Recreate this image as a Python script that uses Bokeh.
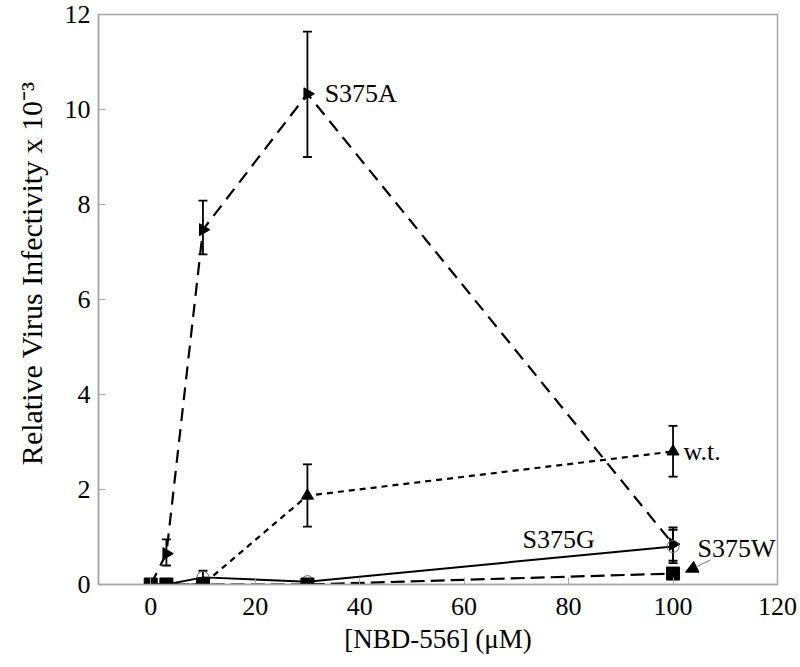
import numpy as np
from bokeh.plotting import figure
from bokeh.models import (ColumnDataSource, Whisker, TeeHead, Label, Arrow,
                          NormalHead, Range1d, FixedTicker, LinearAxis)
from bokeh.embed import file_html
from bokeh.resources import INLINE

# ---- data ----
conc = [0, 3, 10, 30, 100]
s375a = [0, 0.65, 7.47, 10.33, 0.85]
wt = [0, 0, 0, 1.87, 2.8]
s375g = [0, 0, 0.15, 0.06, 0.8]
s375w = [0, 0, 0, 0, 0.23]

s375a_err_x = [3, 10, 30, 100]
s375a_err_hi = [0.95, 8.08, 11.64, 1.2]
s375a_err_lo = [0.4, 6.95, 9.0, 0.5]

wt_err_x = [30, 100]
wt_err_hi = [2.53, 3.34]
wt_err_lo = [1.22, 2.27]

s375g_err_x = [10, 100]
s375g_err_hi = [0.29, 1.15]
s375g_err_lo = [0.01, 0.45]

x_ticks = [0, 20, 40, 60, 80, 100, 120]
y_ticks = [0, 2, 4, 6, 8, 10, 12]

FONT = "Liberation Serif"
GRAY = "#a6a6a6"

p = figure(frame_width=679, frame_height=570, output_backend="svg",
           toolbar_location=None, x_range=Range1d(-10, 120), y_range=Range1d(0, 12),
           min_border_left=98, min_border_top=14, min_border_right=20,
           min_border_bottom=80)
p.background_fill_color = "white"
p.border_fill_color = "white"
p.outline_line_color = GRAY
p.outline_line_width = 1.5
p.grid.visible = False

for ax in (p.xaxis[0], p.yaxis[0]):
    ax.axis_line_color = GRAY
    ax.axis_line_width = 1.5
    ax.major_tick_line_color = GRAY
    ax.major_tick_in = 7
    ax.major_tick_out = 0
    ax.minor_tick_line_color = None
    ax.major_label_text_font = FONT
    ax.major_label_text_font_size = "26px"
    ax.major_label_text_color = "black"
    ax.axis_label_text_font = FONT
    ax.axis_label_text_font_style = "normal"
    ax.axis_label_text_color = "black"

p.xaxis.axis_label_text_font_size = "27px"
p.xaxis.ticker = FixedTicker(ticks=x_ticks)
p.yaxis.ticker = FixedTicker(ticks=y_ticks)
p.xaxis.axis_label = "[NBD-556] (μM)"
p.xaxis.major_label_standoff = 13
p.xaxis.axis_label_standoff = 6
p.yaxis.major_label_standoff = 8

# y-axis title on a second, bare axis; leading no-break spaces lift it a little
title_axis = LinearAxis(ticker=FixedTicker(ticks=[]),
                        axis_line_color=None, major_tick_line_color=None,
                        minor_tick_line_color=None,
                        axis_label="\u00a0" * 7 + "Relative Virus Infectivity x 10⁻³",
                        axis_label_text_font=FONT, axis_label_text_font_size="30px",
                        axis_label_text_font_style="normal",
                        axis_label_text_color="black", axis_label_standoff=14)
p.add_layout(title_axis, "left")

# lines
p.line(conc, wt, line_color="black", line_width=2.2, line_dash="6 5")
p.line(conc, s375a, line_color="black", line_width=2.2, line_dash="13 8")
p.line(conc, s375g, line_color="black", line_width=2)
p.line(conc, s375w, line_color="black", line_width=2.2, line_dash="14 6")

# error bars
def add_err(xs, hi, lo):
    src = ColumnDataSource(dict(x=xs, upper=hi, lower=lo))
    w = Whisker(source=src, base="x", upper="upper", lower="lower",
                dimension="height", line_color="black", line_width=1.8,
                upper_head=TeeHead(size=9, line_color="black", line_width=1.8),
                lower_head=TeeHead(size=9, line_color="black", line_width=1.8))
    p.add_layout(w)

add_err(s375a_err_x, s375a_err_hi, s375a_err_lo)
add_err(wt_err_x, wt_err_hi, wt_err_lo)
add_err(s375g_err_x, s375g_err_hi, s375g_err_lo)

# markers
p.scatter(conc[3:], wt[3:], marker="triangle", size=12, color="black")
p.scatter(conc[1:], s375a[1:], marker="triangle", size=12, color="black", angle=-np.pi / 2)
p.scatter(conc, s375g, marker="circle", size=12, fill_color="white",
          fill_alpha=0.0, line_color="#666666", line_width=1)
p.scatter(conc, s375w, marker="square", size=13, color="black")

# labels
def lab(x, y, t):
    p.add_layout(Label(x=x, y=y, text=t, text_font=FONT, text_font_size="26px",
                       text_color="black", text_baseline="middle", text_align="left"))

lab(33.3, 10.33, "S375A")
lab(102, 2.8, "w.t.")
lab(71.2, 0.95, "S375G")
lab(104.7, 0.76, "S375W")

p.add_layout(Arrow(x_start=107.2, y_start=0.52, x_end=102.4, y_end=0.26,
                   line_color="#777777", line_width=1,
                   end=NormalHead(size=12, fill_color="black", line_color="black")))

open("out.html", "w").write(file_html(p, INLINE))
